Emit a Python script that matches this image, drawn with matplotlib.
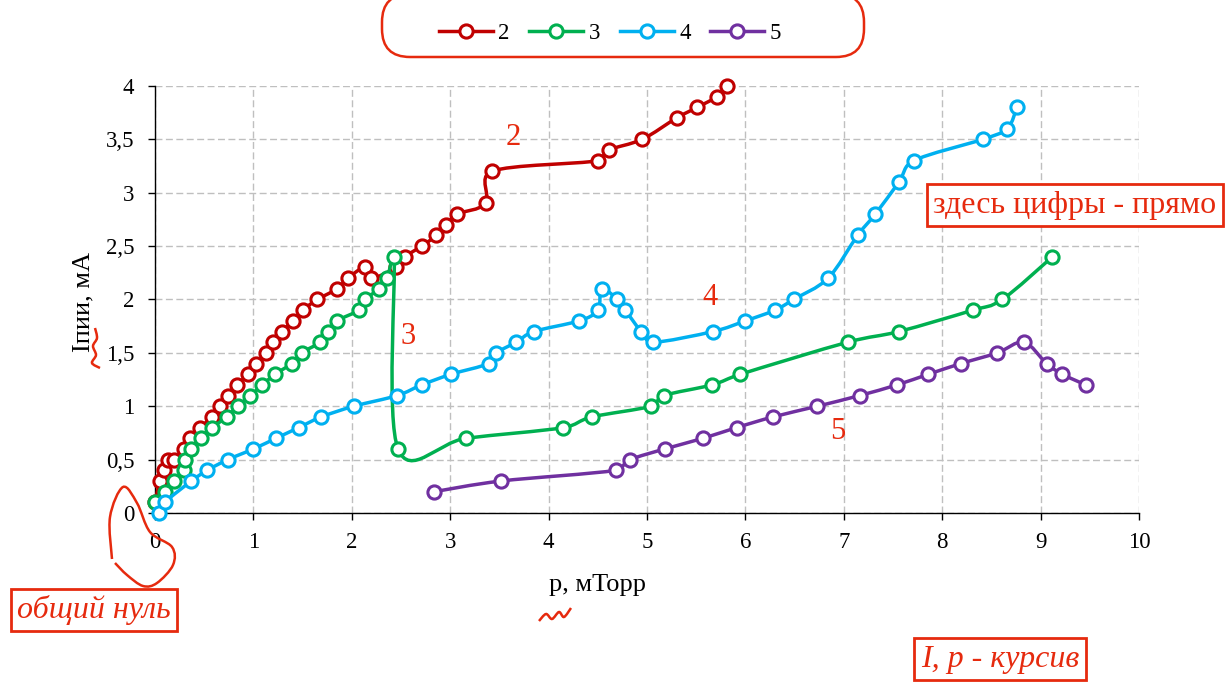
import numpy as np
import matplotlib
matplotlib.use('Agg')
import matplotlib.pyplot as plt
from matplotlib.path import Path
from matplotlib.patches import PathPatch, FancyBboxPatch
from matplotlib.lines import Line2D
from matplotlib.ticker import FuncFormatter, MultipleLocator

plt.rcParams['font.family'] = ['Liberation Serif', 'DejaVu Serif']

# pressure p (mTorr) and current I (mA) for curves 2..5
p2 = [0.0, 0.05, 0.09, 0.13, 0.19, 0.29, 0.36, 0.46, 0.58, 0.66, 0.74, 0.83, 0.95,
      1.03, 1.13, 1.2, 1.29, 1.4, 1.5, 1.65, 1.85, 1.96, 2.13, 2.2, 2.45, 2.54,
      2.71, 2.86, 2.96, 3.07, 3.36, 3.42, 4.5, 4.61, 4.95, 5.3, 5.51, 5.71, 5.81]
i2 = [0.1, 0.3, 0.4, 0.5, 0.5, 0.6, 0.7, 0.8, 0.9, 1.0, 1.1, 1.2, 1.3,
      1.4, 1.5, 1.6, 1.7, 1.8, 1.9, 2.0, 2.1, 2.2, 2.3, 2.2, 2.3, 2.4,
      2.5, 2.6, 2.7, 2.8, 2.9, 3.2, 3.3, 3.4, 3.5, 3.7, 3.8, 3.9, 4.0]

p3 = [0.0, 0.1, 0.19, 0.29, 0.3, 0.37, 0.47, 0.58, 0.73, 0.84, 0.97, 1.09, 1.22,
      1.39, 1.49, 1.68, 1.76, 1.85, 2.07, 2.13, 2.28, 2.36, 2.43, 2.47, 3.16,
      4.15, 4.44, 5.04, 5.17, 5.66, 5.95, 7.04, 7.56, 8.31, 8.61, 9.12]
i3 = [0.1, 0.2, 0.3, 0.4, 0.5, 0.6, 0.7, 0.8, 0.9, 1.0, 1.1, 1.2, 1.3,
      1.4, 1.5, 1.6, 1.7, 1.8, 1.9, 2.0, 2.1, 2.2, 2.4, 0.6, 0.7,
      0.8, 0.9, 1.0, 1.1, 1.2, 1.3, 1.6, 1.7, 1.9, 2.0, 2.4]

p4 = [0.04, 0.1, 0.37, 0.53, 0.74, 1.0, 1.23, 1.46, 1.69, 2.02, 2.46, 2.71, 3.01,
      3.39, 3.47, 3.67, 3.85, 4.31, 4.5, 4.54, 4.7, 4.78, 4.94, 5.06, 5.67, 6.0,
      6.3, 6.49, 6.84, 7.14, 7.32, 7.56, 7.71, 8.41, 8.66, 8.76]
i4 = [0.0, 0.1, 0.3, 0.4, 0.5, 0.6, 0.7, 0.8, 0.9, 1.0, 1.1, 1.2, 1.3,
      1.4, 1.5, 1.6, 1.7, 1.8, 1.9, 2.1, 2.0, 1.9, 1.7, 1.6, 1.7, 1.8,
      1.9, 2.0, 2.2, 2.6, 2.8, 3.1, 3.3, 3.5, 3.6, 3.8]

p5 = [2.84, 3.52, 4.68, 4.83, 5.18, 5.57, 5.91, 6.28, 6.73, 7.16, 7.54, 7.86,
      8.19, 8.56, 8.83, 9.06, 9.22, 9.46]
i5 = [0.2, 0.3, 0.4, 0.5, 0.6, 0.7, 0.8, 0.9, 1.0, 1.1, 1.2, 1.3,
      1.4, 1.5, 1.6, 1.4, 1.3, 1.2]

series = [('2', p2, i2, '#C00000'),
          ('3', p3, i3, '#00B050'),
          ('4', p4, i4, '#00B0F0'),
          ('5', p5, i5, '#7030A0')]

MARK = '#E62A0E'


def smooth_path(x, y, clamp=0.5):
    # cubic bezier through the points, catmull-rom tangents,
    # control arms limited to a share of the segment length
    pts = np.column_stack([x, y]).astype(float)
    n = len(pts)
    verts = [pts[0]]
    codes = [Path.MOVETO]
    for k in range(n - 1):
        a = pts[k - 1] if k > 0 else pts[k]
        b = pts[k]
        c = pts[k + 1]
        d = pts[k + 2] if k + 2 < n else pts[k + 1]
        seg = np.hypot(*(c - b))
        arm1 = (c - a) / 6
        arm2 = (d - b) / 6
        for arm in (arm1, arm2):
            ln = np.hypot(*arm)
            if ln > clamp * seg and ln > 0:
                arm *= clamp * seg / ln
        verts += [b + arm1, c - arm2, c]
        codes += [Path.CURVE4] * 3
    return Path(verts, codes)


W, H = 1232, 697
fig = plt.figure(figsize=(W / 100, H / 100), dpi=100)
ax = fig.add_axes([155 / W, 1 - 513 / H, 984 / W, 427 / H])

handles = []
for k, (name, px, py, col) in enumerate(series):
    ax.add_patch(PathPatch(smooth_path(px, py), fc='none', ec=col, lw=2.5,
                           zorder=3 + 2 * k, capstyle='round'))
    ax.plot(px, py, ls='none', marker='o', ms=9.5, mfc='white', mec=col,
            mew=2.2, zorder=4 + 2 * k, clip_on=False)
    handles.append(Line2D([], [], color=col, lw=2.5, marker='o', ms=9.5,
                          mfc='white', mec=col, mew=2.2, label=name))

ax.set_xlim(0, 10)
ax.set_ylim(0, 4)
ax.xaxis.set_major_locator(MultipleLocator(1))
ax.yaxis.set_major_locator(MultipleLocator(0.5))
comma = FuncFormatter(lambda v, pos: ('%g' % v).replace('.', ','))
ax.xaxis.set_major_formatter(comma)
ax.yaxis.set_major_formatter(comma)
ax.tick_params(direction='out', length=5, width=1, labelsize=16.5, colors='black')
ax.tick_params(axis='x', pad=9)
ax.tick_params(axis='y', pad=10)
ax.grid(True, color='#bfbfbf', lw=1.0, ls=(0, (5, 2.5)))
ax.set_axisbelow(True)
for side in ['top', 'right']:
    ax.spines[side].set_visible(False)
for side in ['left', 'bottom']:
    ax.spines[side].set_linewidth(1.0)

ax.set_xlabel('p, мТорр', fontsize=19)
ax.xaxis.set_label_coords(0.45, -0.143)
ax.set_ylabel('Iпии, мА', fontsize=19)
ax.yaxis.set_label_coords(-0.062, 0.494)

# curve numbers
for txt, x, y in [('2', 3.64, 3.52), ('3', 2.57, 1.65), ('4', 5.64, 2.02), ('5', 6.94, 0.76)]:
    ax.text(x, y, txt, color=MARK, fontsize=22, ha='center', va='center', zorder=20)

fig.legend(handles=handles, loc='center', bbox_to_anchor=(610 / W, 1 - 33 / H),
           ncol=4, frameon=False, fontsize=16.5, handlelength=2.35,
           handletextpad=0.25, columnspacing=0.85, numpoints=1)

# editor's markup layer in pixel coordinates
ov = fig.add_axes([0, 0, 1, 1], zorder=30)
ov.set_xlim(0, W)
ov.set_ylim(H, 0)
ov.axis('off')

ov.add_patch(FancyBboxPatch((382, -6), 482, 63,
                            boxstyle='round,pad=0,rounding_size=28',
                            fc='none', ec=MARK, lw=1.8))

loop_x = [112, 110, 123, 137, 150, 172, 173, 157, 143, 127, 115]
loop_y = [559, 517, 487, 503, 532, 547, 565, 583, 586, 575, 563]
ov.add_patch(PathPatch(smooth_path(loop_x, loop_y, clamp=2), fc='none', ec=MARK, lw=1.8))

sq1_x = [95, 97, 93, 96, 92, 100]
sq1_y = [328, 338, 346, 355, 363, 368]
ov.add_patch(PathPatch(smooth_path(sq1_x, sq1_y, clamp=2), fc='none', ec=MARK, lw=1.8))
sq2_x = [539, 546, 552, 559, 564, 571]
sq2_y = [621, 614, 619, 612, 617, 608]
ov.add_patch(PathPatch(smooth_path(sq2_x, sq2_y, clamp=2), fc='none', ec=MARK, lw=1.8))

box = dict(boxstyle='square,pad=0.2', fc='white', ec=MARK, lw=2.0)
ov.text(1075, 205, 'здесь цифры - прямо', color=MARK, fontsize=23,
        ha='center', va='center', bbox=box)
ov.text(94, 610, 'общий нуль', color=MARK, fontsize=23, style='italic',
        ha='center', va='center', bbox=box)
ov.text(1000, 659, 'I, p - курсив', color=MARK, fontsize=23, style='italic',
        ha='center', va='center', bbox=box)

fig.savefig('out.png', dpi=100)
